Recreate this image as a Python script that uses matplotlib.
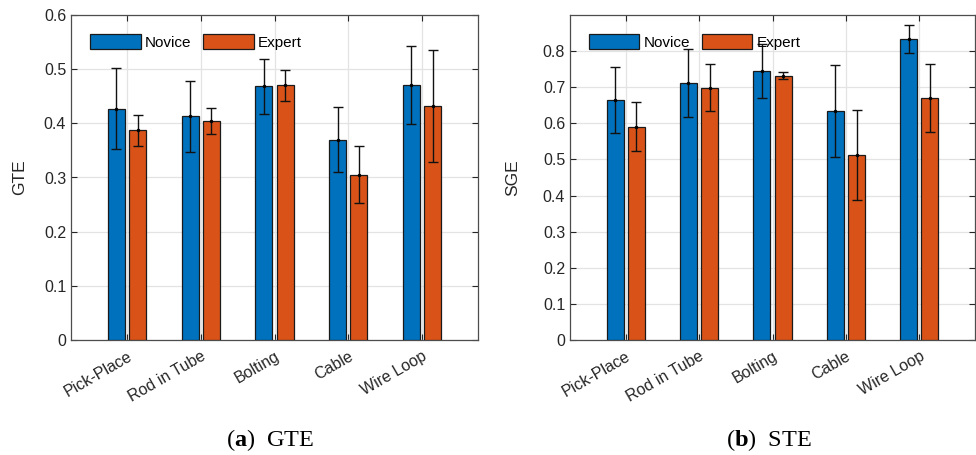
import numpy as np
import matplotlib
matplotlib.use("Agg")
import matplotlib.pyplot as plt

categories = ["Pick-Place", "Rod in Tube", "Bolting", "Cable", "Wire Loop"]
series = ["Novice", "Expert"]

gte_novice = [0.427, 0.413, 0.468, 0.370, 0.470]
gte_novice_err = [0.075, 0.065, 0.051, 0.060, 0.072]
gte_expert = [0.387, 0.405, 0.470, 0.305, 0.432]
gte_expert_err = [0.028, 0.024, 0.029, 0.053, 0.104]

sge_novice = [0.664, 0.712, 0.744, 0.634, 0.833]
sge_novice_err = [0.091, 0.094, 0.075, 0.127, 0.039]
sge_expert = [0.590, 0.698, 0.732, 0.513, 0.669]
sge_expert_err = [0.068, 0.065, 0.009, 0.124, 0.094]

captions = [("a", "GTE"), ("b", "STE")]
ylabels = ["GTE", "SGE"]

BLUE = "#0072BD"
ORANGE = "#D95319"
TXT = "#262626"
AXC = "#262626"

plt.rcParams["font.family"] = ["Liberation Sans", "DejaVu Sans"]
plt.rcParams["mathtext.fontset"] = "custom"
plt.rcParams["mathtext.rm"] = "Liberation Serif"
plt.rcParams["mathtext.bf"] = "Liberation Serif:bold"

fig = plt.figure(figsize=(9.76, 4.55), dpi=100)
W, H = 976, 455

def make_panel(rect, nov, nov_e, exp, exp_e, ylim, yticks, ylabel, ylabel_x):
    ax = fig.add_axes([rect[0] / W, 1 - rect[3] / H, (rect[2] - rect[0]) / W, (rect[3] - rect[1]) / H])
    x = np.arange(1, len(categories) + 1)
    off = 0.145
    bw = 0.232
    ax.bar(x - off, nov, bw, color=BLUE, edgecolor="#1a1a1a", linewidth=0.9, label=series[0], zorder=3)
    ax.bar(x + off, exp, bw, color=ORANGE, edgecolor="#1a1a1a", linewidth=0.9, label=series[1], zorder=3)
    for xs, v, e in ((x - off, nov, nov_e), (x + off, exp, exp_e)):
        ax.errorbar(xs, v, yerr=e, fmt=".", color="black", ecolor="#111111", elinewidth=1.0,
                    capsize=3.8, capthick=1.0, markersize=3, zorder=4)
    ax.set_xlim(0.24, 5.76)
    ax.set_ylim(*ylim)
    ax.set_yticks(yticks)
    ax.set_yticklabels([("0" if t == 0 else f"{t:.1f}") for t in yticks])
    ax.set_xticks(x)
    ax.set_xticklabels(categories, rotation=30, ha="right", rotation_mode="anchor")
    ax.grid(True, color="#e3e3e3", linewidth=0.9, zorder=0)
    ax.set_axisbelow(True)
    ax.tick_params(direction="in", top=True, right=True, length=4, width=0.8,
                   colors=AXC, labelcolor=TXT, labelsize=11.5)
    ax.tick_params(axis="x", labelsize=11.5, pad=6)
    for s in ax.spines.values():
        s.set_color("#4d4d4d")
        s.set_linewidth(0.9)
    ax.set_ylabel(ylabel, fontsize=12.5, color=TXT)
    ax.yaxis.set_label_coords((ylabel_x - rect[0]) / (rect[2] - rect[0]), 0.5)
    leg = ax.legend(loc="upper left", ncol=2, frameon=False, fontsize=11,
                    handlelength=3.3, handleheight=1.1, handletextpad=0.25,
                    columnspacing=0.8, bbox_to_anchor=(0.032, 0.96), borderaxespad=0.0)
    for t in leg.get_texts():
        t.set_color("black")
    return ax

make_panel((71, 15, 478, 340), gte_novice, gte_novice_err, gte_expert, gte_expert_err,
           (0, 0.6), [0, 0.1, 0.2, 0.3, 0.4, 0.5, 0.6], ylabels[0], 27)
make_panel((570, 15, 975, 340), sge_novice, sge_novice_err, sge_expert, sge_expert_err,
           (0, 0.9), [0, 0.1, 0.2, 0.3, 0.4, 0.5, 0.6, 0.7, 0.8], ylabels[1], 520)

for (lett, name), cx in zip(captions, [270, 769]):
    fig.text(cx / W, 1 - 440 / H, rf"$(\mathbf{{{lett}}})$  {name}", ha="center", va="center",
             fontsize=17.5, family=["Liberation Serif", "DejaVu Serif"], color="black")

fig.savefig("out.png", dpi=100)
